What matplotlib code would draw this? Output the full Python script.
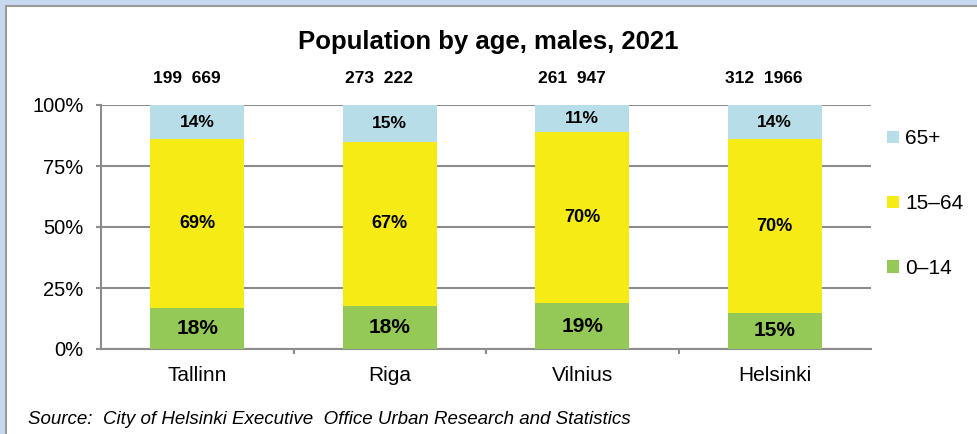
import matplotlib.pyplot as plt
from matplotlib.patches import Rectangle
import numpy as np

plt.rcParams['font.family'] = ['Liberation Sans', 'DejaVu Sans']

cities = ['Tallinn', 'Riga', 'Vilnius', 'Helsinki']
totals = ['199  669', '273  222', '261  947', '312  1966']
age_groups = ['0–14', '15–64', '65+']
# shares (%)
share_0_14 = [16.7, 17.8, 18.8, 14.8]
share_15_64 = [69.3, 67.1, 70.1, 71.2]
share_65 = [14.0, 15.1, 11.1, 14.0]
# data labels as printed in the chart
lab_0_14 = ['18%', '18%', '19%', '15%']
lab_15_64 = ['69%', '67%', '70%', '70%']
lab_65 = ['14%', '15%', '11%', '14%']

colors = ['#95c957', '#f6eb14', '#b7dee8']
grey = '#8c8c8c'

fig = plt.figure(figsize=(9.77, 4.34), dpi=100, facecolor='#c6d9f1')
fig.patches.append(Rectangle((6 / 977, -0.02), 1.02, 1 - 6 / 434 + 0.02,
                             transform=fig.transFigure, facecolor='white',
                             edgecolor='#9a9a9a', linewidth=1.5, zorder=-10))

ax = fig.add_axes([101 / 977, 1 - 349 / 434, 770 / 977, 244 / 434])
ax.set_facecolor('none')
ax.set_zorder(2)

x = np.arange(len(cities))
w = 0.49
shares = [share_0_14, share_15_64, share_65]
labels = [lab_0_14, lab_15_64, lab_65]
sizes = [15, 13, 12.5]
bottom = np.zeros(len(cities))
for vals, labs, col, name, fs in zip(shares, labels, colors, age_groups, sizes):
    vals = np.array(vals)
    ax.bar(x, vals, w, bottom=bottom, color=col, label=name, zorder=3)
    for xi, b, v, t in zip(x, bottom, vals, labs):
        ax.text(xi, b + v / 2, t, ha='center', va='center',
                fontsize=fs, fontweight='bold', zorder=4)
    bottom += vals

for xi, t in zip(x, totals):
    ax.text(xi - 0.055, 111, t, ha='center', va='center', fontsize=12.5,
            fontweight='bold')

ax.set_xlim(-0.5, 3.5)
ax.set_ylim(0, 100)
ax.set_yticks([0, 25, 50, 75, 100])
ax.set_yticklabels(['0%', '25%', '50%', '75%', '100%'], fontsize=14.5)
ax.set_xticks(x)
ax.set_xticklabels(cities, fontsize=15)
ax.set_xticks([0.5, 1.5, 2.5], minor=True)
ax.tick_params(axis='x', which='major', length=0, pad=12)
ax.tick_params(axis='x', which='minor', length=3.6, width=1.5, color=grey)
ax.tick_params(axis='y', length=3.6, width=1.5, color=grey, pad=9)
ax.yaxis.grid(True, color=grey, linewidth=1.5, zorder=1)
ax.set_axisbelow(True)
for s in ['top', 'right']:
    ax.spines[s].set_visible(False)
for s in ['left', 'bottom']:
    ax.spines[s].set_color(grey)
    ax.spines[s].set_linewidth(1.5)

h, l = ax.get_legend_handles_labels()
fig.legend(h[::-1], l[::-1], loc='upper left',
           bbox_to_anchor=(877 / 977, 1 - 119 / 434), frameon=False,
           fontsize=15, handlelength=0.55, handleheight=0.55,
           handletextpad=0.3, labelspacing=2.2, borderpad=0)

fig.suptitle('Population by age, males, 2021', x=0.5, y=1 - 42 / 434,
             va='center', fontsize=18.5, fontweight='bold')
fig.text(28 / 977, 1 - 420 / 434,
         'Source:  City of Helsinki Executive  Office Urban Research and Statistics',
         fontsize=13.5, style='italic', va='center')

fig.savefig('out.png', dpi=100, facecolor=fig.get_facecolor())
